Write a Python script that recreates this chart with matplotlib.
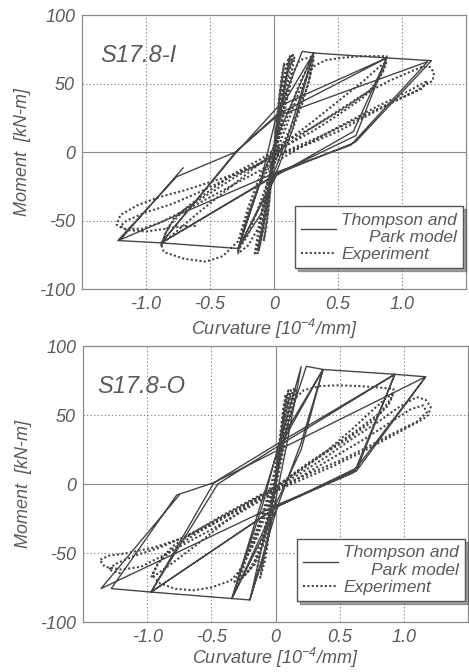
"""Moment-curvature hysteresis: Thompson and Park model vs experiment (S17.8-I / S17.8-O)."""
import matplotlib
matplotlib.use('Agg')
import matplotlib.pyplot as plt

plt.rcParams['font.family'] = ['Liberation Sans', 'DejaVu Sans']
plt.rcParams['font.style'] = 'italic'
plt.rcParams['mathtext.fontset'] = 'custom'
plt.rcParams['mathtext.rm'] = 'Liberation Sans:italic'
plt.rcParams['mathtext.it'] = 'Liberation Sans:italic'
plt.rcParams['mathtext.default'] = 'rm'
plt.rcParams['axes.unicode_minus'] = False

TXT = '#5a5a5a'
LINE = '#464646'
GRID = '#8a8a8a'

x_ticks = [-1.0, -0.5, 0, 0.5, 1.0]
x_ticklabels = ['-1.0', '-0.5', '0', '0.5', '1.0']
y_ticks = [100, 50, 0, -50, -100]
y_ticklabels = ['100', '50', '0', '-50', '-100']

# ---- S17.8-I : model (solid) ----
top_model_x = [0, 0.04, 0.22, 0.31, 0.12, 0.0, -0.1, -0.28, -0.12, 0.02, 0.31,
               0.14, 0.01, -0.28, -0.1, 0.02, 0.31, 0.88, 0.62, 0.02, -0.28,
               -0.88, -0.31, 0.03, 0.88, 0.64, 0.02, -0.88, -0.30, 0.02, 0.88,
               1.23, 0.635, 0.05, -0.88, -1.22, -0.76, -0.30, 0.02, 1.2, 0.6,
               0.04, -1.2, -0.71]
top_model_y = [0, 30, 73.5, 72.3, 15, -15, -45, -70.4, -25, 10, 72.3,
               15, -17, -70.4, -20, 27, 72.3, 68.7, 15, -17, -70.4,
               -66.3, -2, 33, 68.7, 12, -16, -66.3, 0, 27, 68.7,
               66.7, 7.2, -15, -66.3, -64.6, -18, 0, 26, 66, 5,
               -14, -64, -11.6]

# ---- S17.8-I : experiment (dotted) ----
top_exp_x = [0, 0.02, 0.04, 0.06, 0.08,
             0.05, 0.02, 0, -0.02, -0.04, -0.06, -0.08,
             -0.05, -0.02, 0.01, 0.04, 0.07, 0.1, 0.12,
             0.09, 0.05, 0.01, -0.03, -0.06, -0.09, -0.12,
             -0.08, -0.04, 0.0, 0.04, 0.08, 0.12, 0.16,
             0.12, 0.07, 0.02, -0.03, -0.07, -0.11, -0.15,
             -0.1, -0.05, 0.0, 0.05, 0.1, 0.15, 0.2, 0.31,
             0.28, 0.22, 0.15, 0.08, 0.0, -0.06, -0.12, -0.2, -0.28,
             -0.25, -0.18, -0.1, 0.0, 0.1, 0.2, 0.28, 0.31,
             0.27, 0.18, 0.08, 0.0, -0.1, -0.2, -0.28,
             -0.22, -0.12, 0.0, 0.1, 0.2, 0.3, 0.4, 0.55, 0.7, 0.88,
             0.86, 0.8, 0.7, 0.5, 0.3, 0.1, 0.0, -0.1, -0.2, -0.28, -0.4,
             -0.53, -0.7, -0.86, -0.88,
             -0.85, -0.78, -0.65, -0.5, -0.3, -0.1, 0.1, 0.3, 0.5, 0.7, 0.82, 0.88,
             0.85, 0.75, 0.55, 0.3, 0.1, 0.0, -0.2, -0.4, -0.6, -0.75, -0.85, -0.88,
             -0.83, -0.7, -0.5, -0.3, -0.1, 0.1, 0.3, 0.5, 0.7, 0.9, 1.05, 1.15,
             1.22, 1.25, 1.24, 1.2,
             1.1, 0.9, 0.7, 0.5, 0.3, 0.1, -0.1, -0.3, -0.5, -0.7, -0.9, -1.07,
             -1.2, -1.23, -1.18, -1.03, -0.9, -0.75, -0.6,
             -0.4, -0.2, 0.0, 0.2, 0.4, 0.6, 0.8, 1.0, 1.12, 1.2,
             1.15, 1.0, 0.8, 0.6, 0.4, 0.2, 0.0, -0.2, -0.4, -0.6, -0.8, -1.0,
             -1.15, -1.2, -1.15, -1.0, -0.85, -0.7, -0.6]
top_exp_y = [0, 20, 40, 55, 65,
             45, 20, 0, -20, -40, -55, -65,
             -45, -20, 5, 30, 52, 64, 69,
             50, 28, 5, -20, -42, -58, -70,
             -48, -25, 0, 25, 48, 62, 69,
             50, 28, 5, -22, -45, -62, -74,
             -45, -22, -5, 15, 38, 58, 67, 70,
             55, 35, 18, 5, -8, -30, -55, -68, -74,
             -60, -40, -20, 0, 25, 50, 65, 68,
             50, 28, 8, -8, -35, -60, -72,
             -50, -25, -5, 20, 45, 62, 67, 69, 70, 70,
             62, 50, 40, 27, 15, 5, -2, -15, -40, -65, -76,
             -80, -78, -73, -68,
             -60, -48, -38, -28, -15, -5, 8, 22, 37, 52, 62, 66,
             58, 45, 32, 18, 8, 0, -15, -30, -45, -57, -65, -68,
             -55, -42, -30, -18, -8, 5, 18, 30, 42, 52, 58, 62,
             62, 58, 52, 50,
             44, 35, 25, 15, 7, 0, -8, -16, -22, -28, -33, -39,
             -46, -53, -56, -56, -52, -45, -38,
             -28, -18, -8, 3, 13, 23, 33, 42, 48, 52,
             46, 40, 31, 22, 13, 5, -3, -12, -21, -30, -38, -44,
             -50, -54, -57, -58, -56, -54, -54]

# extra small cycles forming the dark band near the origin
top_band_x = [0.0, 0.03, 0.06, 0.09, 0.11, 0.13, 0.1, 0.06, 0.02, -0.02, -0.05,
              -0.08, -0.1, -0.12, -0.09, -0.05, -0.01, 0.03, 0.07, 0.1, 0.13,
              0.15, 0.11, 0.07, 0.03, -0.01, -0.05, -0.08, -0.11, -0.13, -0.1,
              -0.06, -0.02, 0.02]
top_band_y = [0, 22, 45, 60, 67, 71, 55, 32, 10, -12, -35,
              -52, -64, -72, -55, -32, -8, 18, 42, 58, 67,
              72, 52, 30, 8, -14, -38, -55, -66, -74, -52,
              -28, -6, 16]

# ---- S17.8-O : model (solid) ----
bot_model_x = [0, 0.05, 0.2, 0.08, 0.0, -0.07, -0.2, -0.08, 0.02, 0.1, 0.24,
               0.37, 0.2, 0.02, -0.2, -0.34, -0.15, 0.02, 0.37, 0.2, 0.0,
               -0.34, -0.1, 0.03, 0.37, 0.93, 0.62, 0.02, -0.34, -0.97, -0.48,
               0.03, 0.93, 0.64, 0.02, -0.97, -0.45, 0.03, 0.93, 1.17, 0.63,
               0.04, -0.97, -1.28, -0.77, -0.48, 0.03, 1.17, 0.6, 0.04, -1.36,
               -0.75]
bot_model_y = [0, 35, 85, 25, -12, -45, -84, -35, 10, 45, 85.3,
               83, 30, -15, -84, -83, -25, 25, 83, 25, -15,
               -83, -15, 30, 83, 79.5, 10, -16, -83, -78.3, 1,
               30, 79.5, 12, -16, -78.3, 0, 28, 79.5, 77.7, 9.3,
               -15, -78.3, -75.8, -8, 1, 25, 77.7, 8, -14, -75.8,
               -8]

# ---- S17.8-O : experiment (dotted) ----
bot_exp_x = [0, 0.03, 0.06, 0.08, 0.05, 0.01, -0.04, -0.08, -0.12,
             -0.07, -0.02, 0.03, 0.07, 0.1, 0.06, 0.0, -0.05, -0.1, -0.16,
             -0.1, -0.04, 0.02, 0.06, 0.1, 0.12, 0.08, 0.03, -0.04, -0.1,
             -0.18, -0.26, -0.32,
             -0.24, -0.15, -0.06, 0.03, 0.08, 0.13, 0.22, 0.35, 0.49, 0.65,
             0.8, 0.92,
             0.9, 0.82, 0.65, 0.45, 0.25, 0.08, 0.0, -0.08, -0.18, -0.28,
             -0.35, -0.5, -0.64, -0.78, -0.9, -0.96,
             -0.9, -0.8, -0.6, -0.4, -0.2, 0.0, 0.2, 0.4, 0.6, 0.75, 0.86, 0.92,
             0.88, 0.75, 0.55, 0.35, 0.15, 0.0, -0.2, -0.4, -0.6, -0.8, -0.92,
             -0.97,
             -0.92, -0.8, -0.6, -0.4, -0.2, 0.0, 0.2, 0.4, 0.6, 0.8, 0.95, 1.1,
             1.17, 1.21, 1.19, 1.15,
             1.05, 0.85, 0.65, 0.45, 0.25, 0.05, -0.15, -0.35, -0.55, -0.75,
             -0.95, -1.15, -1.3, -1.37, -1.33, -1.2, -1.05,
             -0.9, -0.7, -0.5, -0.3, -0.1, 0.1, 0.3, 0.5, 0.7, 0.9, 1.05, 1.15,
             1.18,
             1.1, 0.9, 0.7, 0.5, 0.3, 0.1, -0.1, -0.3, -0.5, -0.7, -0.9, -1.1,
             -1.25, -1.3, -1.2]
bot_exp_y = [0, 30, 55, 65, 40, 5, -30, -55, -68,
             -40, -10, 25, 55, 68, 40, 0, -35, -58, -70,
             -40, -12, 20, 45, 62, 68, 45, 15, -20, -45,
             -60, -68, -71,
             -55, -40, -18, 15, 42, 60, 68, 71, 71.5, 71,
             70, 69,
             62, 52, 40, 27, 15, 3, -5, -20, -45, -63,
             -70, -75, -77, -76, -72, -66,
             -55, -45, -33, -22, -12, -2, 10, 24, 40, 53, 62, 66,
             57, 45, 32, 20, 8, -2, -15, -28, -43, -57, -65,
             -68,
             -58, -47, -35, -24, -13, -3, 8, 20, 33, 45, 55, 63,
             61, 56, 50, 47,
             42, 32, 22, 13, 5, -3, -12, -22, -32, -40,
             -46, -50, -52, -55, -60, -62, -60,
             -53, -43, -33, -22, -11, 0, 11, 22, 33, 45, 54, 57,
             52,
             45, 36, 26, 17, 9, 1, -8, -18, -28, -38, -46, -52,
             -58, -62, -65]

bot_band_x = [0.0, 0.03, 0.07, 0.1, 0.13, 0.15, 0.11, 0.06, 0.01, -0.04, -0.1,
              -0.16, -0.22, -0.28, -0.22, -0.14, -0.07, -0.01, 0.04, 0.09, 0.13,
              0.16, 0.12, 0.07, 0.02, -0.03, -0.09, -0.16, -0.24, -0.3, -0.24,
              -0.15, -0.07, 0.0]
bot_band_y = [0, 25, 48, 60, 66, 70, 52, 30, 8, -15, -38,
              -55, -64, -70, -52, -32, -12, 8, 32, 52, 63,
              69, 50, 28, 6, -18, -42, -58, -66, -72, -55,
              -35, -15, 0]

fig = plt.figure(figsize=(4.69, 6.72), dpi=100)
ax_top = fig.add_axes([0.1748, 0.5699, 0.8188, 0.4077])
ax_bot = fig.add_axes([0.1770, 0.0744, 0.8209, 0.4107])


def draw_panel(ax, mx, my, ex, ey, bx, by, label, anchor_x, xpad):
    ax.set_xlim(-1.5, 1.5)
    ax.set_ylim(-100, 100)
    for v in [-1.0, -0.5, 0.5, 1.0]:
        ax.axvline(v, color=GRID, lw=0.8, ls=(0, (1.2, 2.0)), zorder=0)
    for v in [-50, 50]:
        ax.axhline(v, color=GRID, lw=0.8, ls=(0, (1.2, 2.0)), zorder=0)
    ax.axvline(0, color=GRID, lw=0.8, zorder=0)
    ax.axhline(0, color=GRID, lw=0.8, zorder=0)

    ax.plot(mx, my, color=LINE, lw=1.0, ls='-', label='Thompson and\nPark model')
    ax.plot(ex, ey, color=LINE, lw=1.5, ls=(0, (1, 1.1)), label='Experiment')
    ax.plot(bx, by, color=LINE, lw=1.5, ls=(0, (1, 1.1)))

    ax.set_xticks(x_ticks)
    ax.set_xticklabels(x_ticklabels)
    ax.set_yticks(y_ticks)
    ax.set_yticklabels(y_ticklabels)
    ax.tick_params(length=0, labelsize=13, labelcolor=TXT, pad=5)
    for s in ax.spines.values():
        s.set_color(GRID); s.set_linewidth(0.9)

    ax.set_xlabel('Curvature [10$^{-4}$/mm]', fontsize=13, color=TXT, labelpad=xpad)
    ax.set_ylabel('Moment  [kN-m]', fontsize=13, color=TXT, labelpad=6)
    ax.text(anchor_x, 0.83, label, transform=ax.transAxes, fontsize=17,
            color=TXT, ha='left', va='baseline')

    leg = ax.legend(loc='lower right', bbox_to_anchor=(0.992, 0.077),
                    fontsize=12.5, frameon=True, fancybox=False, shadow=True,
                    handlelength=2.0, handletextpad=0.3, borderpad=0.35,
                    labelspacing=0.1, borderaxespad=0)
    leg.get_frame().set_edgecolor('#555555')
    leg.get_frame().set_linewidth(1.0)
    for t in leg.get_texts():
        t.set_color(TXT)
        t.set_multialignment('right')


draw_panel(ax_top, top_model_x, top_model_y, top_exp_x, top_exp_y,
           top_band_x, top_band_y, 'S17.8-I', 0.047, 3)
draw_panel(ax_bot, bot_model_x, bot_model_y, bot_exp_x, bot_exp_y,
           bot_band_x, bot_band_y, 'S17.8-O', 0.036, 0)

fig.savefig('out.png', dpi=100)
